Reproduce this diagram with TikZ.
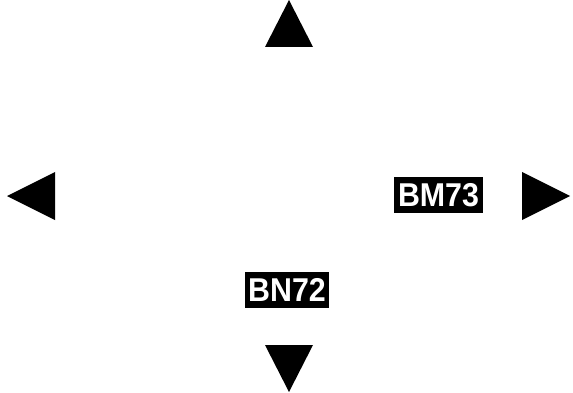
\documentclass[tikz,border=0pt]{standalone}
\usepackage{fontspec}
\setmainfont{Liberation Sans}
\usetikzlibrary{positioning}

\begin{document}
\begin{tikzpicture}[x=1pt,y=-1pt]
	\tikzstyle{pointer}=[fill=black]
	\tikzstyle{tag}=[fill=black,text=white,font=\fontsize{33}{33}\selectfont\bfseries,
		inner xsep=4pt,inner ysep=6pt,xscale=0.92,transform shape]

	\useasboundingbox (0,0) rectangle (573,393);

	\fill[pointer] (289,0) -- (313,47) -- (265,47) -- cycle;
	\fill[pointer] (7,196) -- (55,172) -- (55,220) -- cycle;
	\fill[pointer] (570,196) -- (522,172) -- (522,220) -- cycle;
	\fill[pointer] (289,392) -- (313,345) -- (265,345) -- cycle;

	\node[tag] (bm73) at (438.5,195) {BM73};
	\node[tag] (bn72) at (287,290) {BN72};
\end{tikzpicture}
\end{document}
